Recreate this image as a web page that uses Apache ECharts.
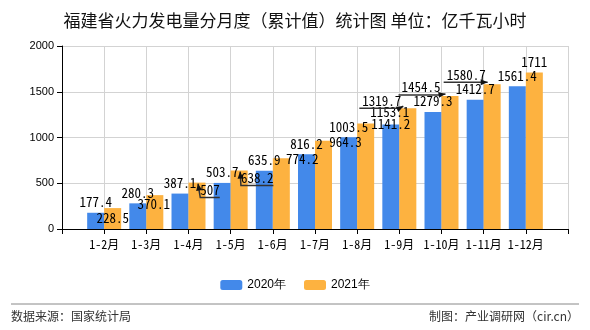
<!DOCTYPE html>
<html><head><meta charset="utf-8">
<script src="https://cdn.jsdelivr.net/npm/echarts@6/dist/echarts.min.js"></script>
<style>html,body{margin:0;padding:0;background:#fff}#c{width:590px;height:330px}</style>
</head><body><div id="c"></div>
<script>
var categories = ['1-2月','1-3月','1-4月','1-5月','1-6月','1-7月','1-8月','1-9月','1-10月','1-11月','1-12月'];
var values2020 = [177.4, 280.3, 387.1, 503.7, 635.9, 816.2, 1003.5, 1141.2, 1279.3, 1412.7, 1561.4];
var values2021 = [228.5, 370.1, 507, 638.2, 774.2, 964.3, 1153.1, 1319.7, 1454.5, 1580.7, 1711];
var seriesNames = ['2020年','2021年'];
var yTicks = [0, 500, 1000, 1500, 2000];

// label nudges (style only: how far each value label is moved from its default spot, in px)
var nudge2020 = [[0,0],[0,0],[0,0],[0,0],[0,0],[0,0],[0,0],[0,10],[0,0],[0,0],[0,0]];
var nudge2021 = [[0,20],[-1,19],[13,18],[18,18],[21,11],[22,12],[24,-1],[-26,3],[-29,2],[-26,1],[0,0]];
var leader2021 = [false,false,true,true,false,false,false,true,true,true,false];

var monoFont = "'Noto Sans Mono CJK SC','DejaVu Sans Mono',monospace";
var xData = [''].concat(categories, ['']);
function pad(a){ return ['-'].concat(a, ['-']); }

var placed = {};
function layoutFn(nudges, key){
  return function(p){
    var n = nudges[p.dataIndex - 1];
    if (!n) return {};
    var r = p.labelRect;
    placed[key + (p.dataIndex - 1)] = {
      lx: r.x + n[0], ly: r.y + n[1], lw: r.width, lh: r.height,
      bx: p.rect.x, by: p.rect.y, bw: p.rect.width
    };
    return {dx: n[0], dy: n[1]};
  };
}

var chart = echarts.init(document.getElementById('c'), null, {renderer:'canvas'});
var labelCfg = {show:true, position:'top', distance:4, color:'#000', fontSize:13, fontFamily:monoFont};
var baseGraphic = [
  {type:'line', shape:{x1:11, y1:304, x2:579, y2:304}, style:{stroke:'#888', lineWidth:1}},
  {type:'text', left:11, top:310, style:{text:'数据来源：国家统计局', fontSize:12, fill:'#333', fontFamily:"'Noto Sans CJK SC'"}},
  {type:'text', right:11, top:310, style:{text:'制图：产业调研网（cir.cn）', fontSize:12, fill:'#333', fontFamily:"'Noto Sans CJK SC'"}}
];
chart.setOption({
  animation:false,
  title:{text:'福建省火力发电量分月度（累计值）统计图 单位：亿千瓦小时', left:'center', top:7,
    textStyle:{fontSize:17, fontWeight:'normal', color:'#111', fontFamily:"'Noto Sans CJK SC'"}},
  legend:{data:seriesNames, top:274, left:'center', itemWidth:22, itemHeight:10, itemGap:18,
    textStyle:{fontSize:12, color:'#000', fontFamily:"'Liberation Sans',Arial"}},
  grid:{left:62, right:22, top:46, bottom:101},
  xAxis:{type:'category', data:xData, boundaryGap:false,
    axisLine:{lineStyle:{color:'#000'}}, axisTick:{length:5, lineStyle:{color:'#000'}},
    axisLabel:{color:'#000', fontSize:12, fontFamily:monoFont, margin:9, interval:0},
    splitLine:{show:true, lineStyle:{color:'#d3d3d3'}}},
  yAxis:{type:'value', min:yTicks[0], max:yTicks[yTicks.length-1], interval:500,
    axisLine:{show:true, lineStyle:{color:'#000'}}, axisTick:{show:true, length:5, lineStyle:{color:'#000'}},
    axisLabel:{color:'#000', fontSize:11, fontFamily:"'Liberation Sans',Arial", margin:8,
      formatter:function(v){ return String(v); }},
    splitLine:{lineStyle:{color:'#d3d3d3'}}},
  series:[
    {name:seriesNames[0], type:'bar', data:pad(values2020), barWidth:17, barGap:'0%', z:2,
     itemStyle:{color:'#4389EA'}, label:labelCfg, labelLayout:layoutFn(nudge2020, 'a')},
    {name:seriesNames[1], type:'bar', data:pad(values2021), barWidth:17, barGap:'0%', z:2,
     itemStyle:{color:'#FDB240'}, label:labelCfg, labelLayout:layoutFn(nudge2021, 'b')}
  ],
  graphic:baseGraphic
});

// leader lines with arrow heads, built from the rects the library laid out
var extra = [];
leader2021.forEach(function(on, i){
  if (!on) return;
  var P = placed['b' + i];
  if (!P) return;
  var yb = P.ly + P.lh + 1;
  var pts, tip;
  if (P.lx > P.bx) { // label to the right of its bar
    tip = [P.bx + P.bw / 2 + 1, P.by + 1];
    pts = [[P.lx + P.lw, yb], [P.lx, yb], tip];
  } else {           // label to the left of its bar
    tip = [P.bx + 4, P.by - 2];
    pts = [[P.lx - 3, yb], [P.lx + P.lw - 2, yb], tip];
  }
  var prev = pts[1];
  var dx = tip[0] - prev[0], dy = tip[1] - prev[1];
  var len = Math.sqrt(dx*dx + dy*dy) || 1;
  var ux = dx / len, uy = dy / len;
  var L = 7, W = 3;
  var base = [tip[0] - ux * L, tip[1] - uy * L];
  extra.push({type:'polyline', z:100, shape:{points:pts}, style:{stroke:'#333', lineWidth:1.5, fill:null}});
  extra.push({type:'polygon', z:101, shape:{points:[tip,
      [base[0] - uy * W, base[1] + ux * W], [base[0] + uy * W, base[1] - ux * W]]},
    style:{fill:'#111'}});
});
chart.setOption({graphic: baseGraphic.concat(extra)});
</script></body></html>
